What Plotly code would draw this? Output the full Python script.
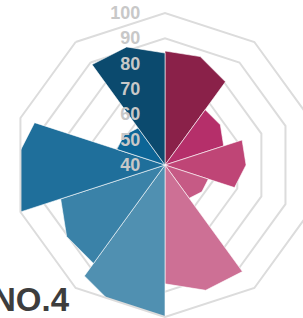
import plotly.graph_objects as go

# Data (clockwise from top)
categories = ["A", "B", "C", "D", "E", "F", "G", "H", "I", "J"]
values = [85, 67, 72, 58, 92, 100, 88, 100, 60, 89]
colors = ["#8a2149", "#b52f6a", "#bf4576", "#c65a85", "#cd7095",
          "#5090b1", "#3a82a8", "#1f6f9b", "#0d6596", "#0b4a6e"]
tick_vals = [40, 50, 60, 70, 80, 90, 100]
title_text = "NO.4"
r_min = 40

fig = go.Figure()
fig.add_trace(go.Barpolar(
    theta=categories,
    r=[v - r_min for v in values],
    base=r_min,
    offset=0,
    width=1,
    marker=dict(color=colors, line=dict(color="white", width=0.6)),
    hoverinfo="skip",
))

fig.update_layout(
    width=330, height=318, autosize=False,
    margin=dict(l=13, r=13, t=13, b=1),
    paper_bgcolor="white",
    showlegend=False,
    polar=dict(
        domain=dict(x=[0, 1], y=[0, 1]),
        bgcolor="rgba(0,0,0,0)",
        gridshape="linear",
        angularaxis=dict(
            type="category",
            categoryorder="array", categoryarray=categories,
            direction="clockwise", rotation=90,
            showticklabels=False, ticks="",
            showgrid=False,
            showline=True, linecolor="#dcdcdc", linewidth=2,
        ),
        radialaxis=dict(
            range=[40, 100],
            tickvals=tick_vals,
            angle=90, tickangle=90,
            side="counterclockwise",
            showline=False,
            gridcolor="#dcdcdc", gridwidth=2,
            ticks="outside", ticklen=18, tickcolor="rgba(0,0,0,0)",
            tickfont=dict(family="Liberation Sans", size=18, color="#c8c8c8", weight="bold"),
            layer="above traces",
        ),
    ),
    annotations=[dict(
        text="<b>" + title_text + "</b>",
        xref="paper", yref="paper", x=0.194, y=0.056,
        xanchor="right", yanchor="middle", showarrow=False,
        font=dict(family="Liberation Sans", size=33, color="#3d3d3d"),
    )],
)

fig.write_html("out.html", config={"displayModeBar": False},
               post_script="document.body.style.margin='0';document.body.style.overflow='hidden';")
